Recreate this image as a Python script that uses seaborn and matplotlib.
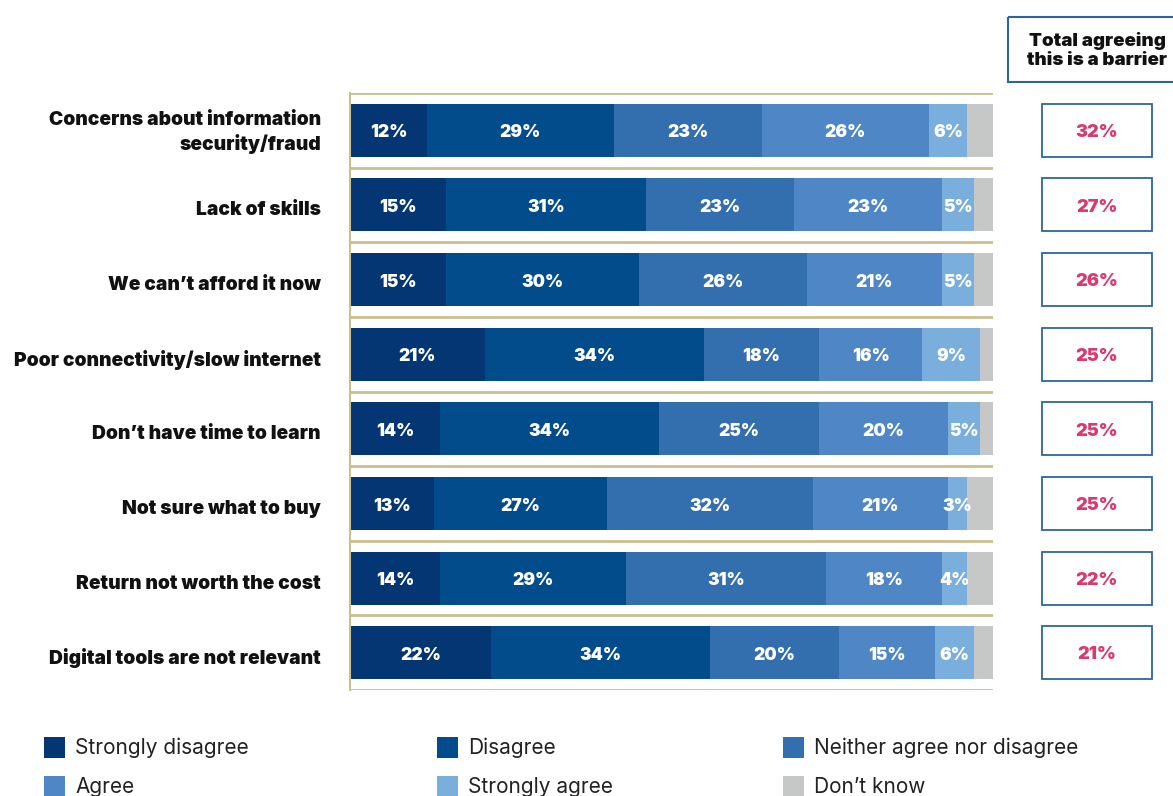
import numpy as np
import pandas as pd
import matplotlib.pyplot as plt
import matplotlib.transforms as mtransforms
import seaborn as sns
from matplotlib.patches import Rectangle

# Data
barriers = [
    "Concerns about information\nsecurity/fraud",
    "Lack of skills",
    "We can\u2019t afford it now",
    "Poor connectivity/slow internet",
    "Don\u2019t have time to learn",
    "Not sure what to buy",
    "Return not worth the cost",
    "Digital tools are not relevant",
]
strongly_disagree = [12, 15, 15, 21, 14, 13, 14, 22]
disagree = [29, 31, 30, 34, 34, 27, 29, 34]
neither = [23, 23, 26, 18, 25, 32, 31, 20]
agree = [26, 23, 21, 16, 20, 21, 18, 15]
strongly_agree = [6, 5, 5, 9, 5, 3, 4, 6]
dont_know = [4, 3, 3, 2, 2, 4, 4, 3]
total_agreeing = [32, 27, 26, 25, 25, 25, 22, 21]

responses = ["Strongly disagree", "Disagree", "Neither agree nor disagree",
             "Agree", "Strongly agree", "Don\u2019t know"]
colors = ["#043673", "#034c8c", "#336eae", "#4f87c6", "#7aaedc", "#c6c7c7"]

df = pd.DataFrame({
    "barrier": barriers,
    responses[0]: strongly_disagree,
    responses[1]: disagree,
    responses[2]: neither,
    responses[3]: agree,
    responses[4]: strongly_agree,
    responses[5]: dont_know,
})

sns.set_style("white")
plt.rcParams["font.family"] = ["Inter", "DejaVu Sans"]
HEAVY = 900

W, H = 1173, 796
fig = plt.figure(figsize=(W / 100, H / 100), dpi=100)
ax = fig.add_axes([350 / W, 1 - 690 / H, 643 / W, 597 / H])

# stacked bars: draw cumulative totals from the right so the shorter ones sit on top
cum = df[responses].cumsum(axis=1)
for resp, col in reversed(list(zip(responses, colors))):
    sns.barplot(x=cum[resp], y=df["barrier"], orient="h", color=col,
                saturation=1, width=0.71, linewidth=0, ax=ax, zorder=2)

# segment labels
left = np.zeros(len(df))
for resp in responses:
    vals = df[resp].to_numpy()
    if resp != responses[-1]:
        for i, v in enumerate(vals):
            ax.text(left[i] + v / 2, i + 0.035, f"{v}%", ha="center", va="center",
                    color="white", fontsize=12.5, fontweight=HEAVY, zorder=3)
    left += vals

grid_color = "#cbbf8f"
ax.hlines(np.arange(len(df) + 1) - 0.5, 0, 100, color=grid_color, lw=2, zorder=1)
ax.set_xlim(0, 100)
ax.set_ylim(len(df) - 0.5, -0.5)
for s in ["top", "right", "bottom"]:
    ax.spines[s].set_visible(False)
ax.spines["left"].set_color(grid_color)
ax.spines["left"].set_linewidth(1.5)
ax.set_xticks([])
ax.set_xlabel("")
ax.set_ylabel("")
ax.tick_params(axis="y", length=0, pad=21)
ax.set_yticks(range(len(df)))
ax.set_yticklabels(barriers, fontsize=13.8, fontweight=HEAVY, color="#111111",
                   linespacing=1.3)
for k, lab in enumerate(ax.get_yticklabels()):
    dy = 1.5 if k == 0 else -2.5
    shift = mtransforms.ScaledTranslation(0, dy / 72, fig.dpi_scale_trans)
    lab.set_transform(lab.get_transform() + shift)

# right-hand "total agreeing" column
ax2 = fig.add_axes([1007 / W, 1 - 690 / H, 166 / W, 597 / H])
ax2.set_xlim(1007, 1173)
ax2.set_ylim(len(df) - 0.5, -0.5)
ax2.axis("off")
box_color = "#2f62a0"
for i, t in enumerate(total_agreeing):
    ax2.add_patch(Rectangle((1042, i - 0.355), 110, 0.71, fill=False,
                            edgecolor=box_color, lw=1.3))
    ax2.text(1097, i + 0.03, f"{t}%", ha="center", va="center", color="#d93a70",
             fontsize=13, fontweight=HEAVY)
ax2.add_patch(Rectangle((1007.5, -1.518), 180, 0.871, fill=False,
                        edgecolor=box_color, lw=1.5, clip_on=False))
ax2.text(1097, -1.07, "Total agreeing\nthis is a barrier", ha="center",
         va="center", fontsize=13.5, fontweight=HEAVY, color="#111111",
         linespacing=1.2, clip_on=False)

# legend laid out in three columns
leg_x = [44, 437, 783]
leg_top = [737, 776]
for k, (resp, col) in enumerate(zip(responses, colors)):
    r, c = divmod(k, 3)
    x0, y0 = leg_x[c], leg_top[r]
    fig.patches.append(Rectangle((x0 / W, 1 - (y0 + 21) / H), 21 / W, 21 / H,
                                 transform=fig.transFigure, facecolor=col,
                                 edgecolor="none"))
    fig.text((x0 + 31) / W, 1 - (y0 + 11) / H, resp, ha="left", va="center",
             fontsize=15, color="#222222")

fig.savefig("out.png", dpi=100)
